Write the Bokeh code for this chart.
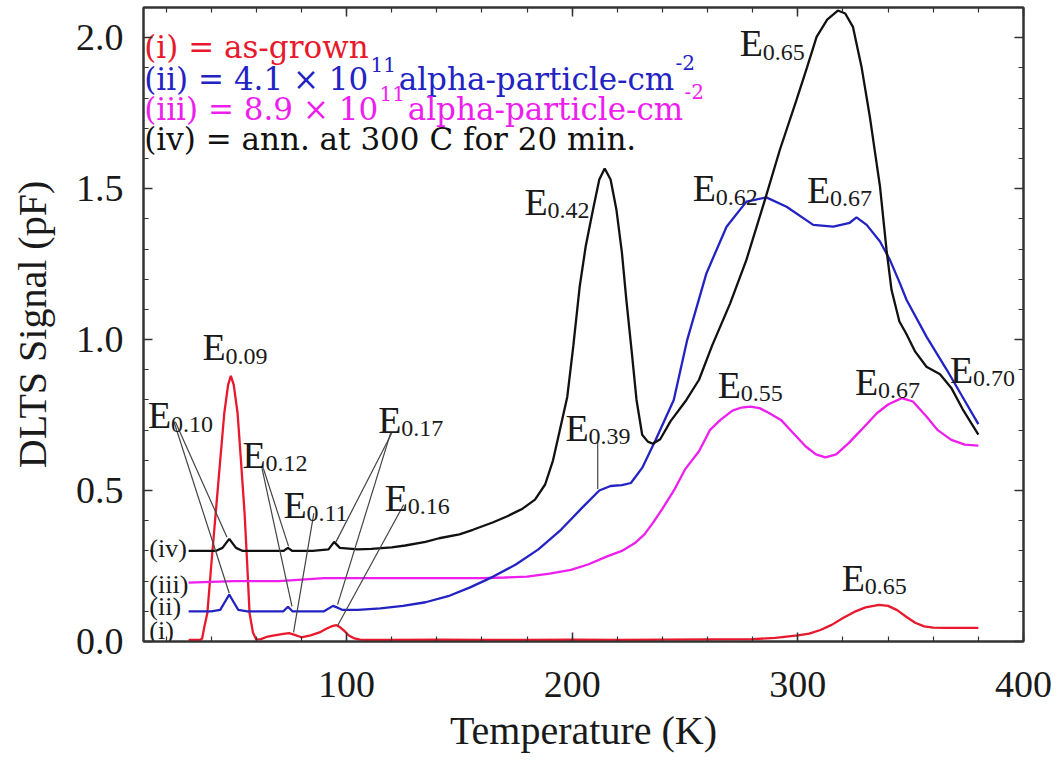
from bokeh.plotting import figure
from bokeh.models import Range1d, LinearAxis, SingleIntervalTicker, CustomJSTickFormatter, PrintfTickFormatter
from bokeh.core.properties import value
from bokeh.embed import file_html
from bokeh.resources import INLINE

FONT = "Liberation Serif"
LFONT = "DejaVu Serif"

# ---------------- data ----------------
temp_i = [30, 35, 36, 37, 38.3, 40, 42, 44, 45.8, 47.5, 48.7, 50, 51.7, 53, 54.8, 56, 57, 58.5, 60,
          62, 64.5, 68, 72, 74.5, 77, 80, 84, 88, 91, 94, 95.5, 97, 99, 101, 103.5, 106, 110,
          120, 140, 160, 180, 200, 220, 240, 260, 280, 290, 300, 305, 310, 315, 320, 325, 330,
          336, 340, 344, 348, 352, 356, 360, 365, 370, 375, 380]
sig_i = [0.005, 0.005, 0.01, 0.05, 0.094, 0.25, 0.425, 0.60, 0.756, 0.85, 0.88, 0.85, 0.756, 0.62,
         0.425, 0.25, 0.094, 0.03, 0.006,
         0.008, 0.015, 0.02, 0.025, 0.028, 0.022, 0.014, 0.02, 0.03, 0.042, 0.052, 0.054, 0.048,
         0.035, 0.02, 0.01, 0.006, 0.005,
         0.005, 0.006, 0.005, 0.005, 0.006, 0.005, 0.006, 0.007, 0.008, 0.012, 0.02, 0.026, 0.038,
         0.055, 0.078, 0.098, 0.113,
         0.121, 0.118, 0.104, 0.082, 0.062, 0.05, 0.046, 0.045, 0.045, 0.045, 0.045]

temp_ii = [30, 40, 44, 46, 48, 50, 52, 56, 65, 72, 74, 76, 80, 90, 94, 96, 98, 105, 115, 125, 135,
           145, 155, 165, 175, 185, 195, 204, 212, 217, 222, 226, 231, 237, 245, 251, 259.5, 268.4,
           277.2, 286, 295, 306.8, 315.7, 323, 326, 330.5, 336.4, 340.8, 345.2, 348.2, 357, 366,
           373, 380]
sig_ii = [0.10, 0.10, 0.105, 0.13, 0.155, 0.13, 0.105, 0.10, 0.10, 0.10, 0.115, 0.10, 0.10, 0.10,
          0.118, 0.112, 0.105, 0.105, 0.11, 0.118, 0.13, 0.15, 0.18, 0.215, 0.255, 0.305, 0.37,
          0.44, 0.50, 0.515, 0.518, 0.525, 0.575, 0.668, 0.80, 1.0, 1.22, 1.374, 1.457, 1.471,
          1.44, 1.38, 1.374, 1.387, 1.405, 1.38, 1.325, 1.264, 1.187, 1.131, 1.01, 0.90, 0.81,
          0.72]

temp_iii = [30, 50, 70, 80, 90, 100, 120, 140, 160, 170, 180, 190, 199.4, 207, 215.2, 222, 227.8,
            232, 235.7, 240, 245.2, 250, 256.2, 261, 265.7, 271, 275, 279, 283, 287, 292.5, 298,
            303.5, 308, 312.2, 317, 322.5, 328, 335, 340, 346, 351, 357, 362, 368, 374, 380]
sig_iii = [0.195, 0.20, 0.20, 0.205, 0.21, 0.21, 0.21, 0.21, 0.21, 0.212, 0.215, 0.225, 0.237,
           0.255, 0.281, 0.30, 0.326, 0.355, 0.392, 0.44, 0.502, 0.57, 0.63, 0.70, 0.734, 0.765,
           0.775, 0.778, 0.773, 0.758, 0.734, 0.69, 0.646, 0.62, 0.61, 0.62, 0.657, 0.70, 0.756,
           0.785, 0.806, 0.795, 0.745, 0.70, 0.668, 0.652, 0.649]

temp_iv = [30, 42, 45, 48, 51, 54, 65, 72, 74, 76, 85, 92, 94.5, 97, 105, 111, 120, 126, 135, 141,
           150, 156, 165, 171, 178, 183.5, 188, 191.5, 194.5, 197.8, 200.5, 203.3, 206, 209.2,
           212, 214.4, 217, 219.6, 222, 224, 226.5, 228.5, 231, 233.5, 235.7, 239, 243.6, 250.6,
           256.2, 262, 270, 277.2, 285.4, 292, 299.4, 304, 308.3, 313, 317.7, 321, 324.4, 328.2,
           331.9, 334, 336.4, 339.3, 341.5, 345, 348, 352, 357, 363, 368, 373, 380]
sig_iv = [0.30, 0.30, 0.31, 0.34, 0.31, 0.30, 0.30, 0.30, 0.31, 0.30, 0.30, 0.305, 0.33, 0.31,
          0.305, 0.307, 0.312, 0.318, 0.33, 0.342, 0.355, 0.37, 0.395, 0.414, 0.44, 0.47, 0.52,
          0.60, 0.70, 0.81, 0.98, 1.175, 1.31, 1.43, 1.53, 1.567, 1.53, 1.43, 1.29, 1.131, 0.95,
          0.80, 0.685, 0.662, 0.655, 0.67, 0.73, 0.80, 0.867, 0.98, 1.12, 1.264, 1.463, 1.628,
          1.794, 1.9, 2.003, 2.06, 2.09, 2.08, 2.036, 1.904, 1.738, 1.63, 1.507, 1.297, 1.165,
          1.06, 1.02, 0.96, 0.91, 0.885, 0.84, 0.77, 0.685]

# trap labels: subscript text, E left (K), E baseline (pF)
trap_sub = ["0.09", "0.10", "0.12", "0.11", "0.17", "0.16", "0.42", "0.39", "0.65", "0.62",
            "0.67", "0.55", "0.67", "0.70", "0.65"]
trap_x = [36.1, 12.0, 53.9, 72.0, 114.0, 116.9, 178.9, 197.0, 274.3, 253.4, 304.0, 264.5, 325.3,
          367.4, 319.4]
trap_y = [0.975, 0.75, 0.618, 0.453, 0.734, 0.476, 1.457, 0.708, 1.982, 1.502, 1.496, 0.85, 0.861,
          0.90, 0.211]

# pointer lines from labels to the small peaks
ptr_x0 = [24.1, 23.5, 63.1, 62.5, 85.5, 120.0, 119.5, 125.3, 211.3]
ptr_y0 = [0.728, 0.728, 0.574, 0.574, 0.425, 0.69, 0.69, 0.453, 0.662]
ptr_x1 = [47.0, 48.0, 74.3, 75.8, 76.5, 95.3, 96.0, 96.0, 211.3]
ptr_y1 = [0.345, 0.16, 0.315, 0.116, 0.03, 0.33, 0.122, 0.052, 0.505]

curve_tags = ["(iv)", "(iii)", "(ii)", "(i)"]
curve_tag_y = [0.309, 0.188, 0.116, 0.038]

RED, BLUE, MAG, BLK = "#e8192c", "#2323c4", "#ee1eee", "#111111"

# ---------------- figure ----------------
p = figure(frame_width=880, frame_height=634, x_range=Range1d(10, 400), y_range=Range1d(0, 2.1),
           output_backend="svg", toolbar_location=None,
           min_border_left=143, min_border_right=35, min_border_top=7, min_border_bottom=132,
           background_fill_color="white", border_fill_color="white")
p.xgrid.visible = False
p.ygrid.visible = False
p.outline_line_color = "#333333"
p.outline_line_width = 2

xt = SingleIntervalTicker(interval=100, num_minor_ticks=5)
yt = SingleIntervalTicker(interval=0.5, num_minor_ticks=5)
p.xaxis.ticker = xt
p.yaxis.ticker = yt
p.yaxis.formatter = PrintfTickFormatter(format="%.1f")
p.xaxis.axis_label = "Temperature (K)"
p.yaxis.axis_label = "DLTS Signal (pF)"


def style_axis(ax):
    ax.major_tick_in = 9
    ax.major_tick_out = 0
    ax.minor_tick_in = 5
    ax.minor_tick_out = 0
    ax.axis_line_width = 2
    ax.axis_line_color = "#333333"
    ax.major_tick_line_color = "#333333"
    ax.minor_tick_line_color = "#333333"
    ax.major_tick_line_width = 1.5
    ax.minor_tick_line_width = 1.2
    ax.major_label_text_font = FONT
    ax.major_label_text_font_size = "38px"
    ax.major_label_text_color = "#1a1a1a"
    ax.axis_label_text_font = FONT
    ax.axis_label_text_font_size = "40px"
    ax.axis_label_text_font_style = "normal"
    ax.axis_label_text_color = "#1a1a1a"


style_axis(p.xaxis[0])
style_axis(p.yaxis[0])
p.xaxis[0].major_label_standoff = 30
p.xaxis[0].axis_label_standoff = 8
p.yaxis[0].major_label_standoff = 20
p.yaxis[0].axis_label_standoff = 18

blank = CustomJSTickFormatter(code="return ''")
for loc, tk in (("above", xt), ("right", yt)):
    ax = LinearAxis(ticker=tk, formatter=blank)
    style_axis(ax)
    ax.major_label_standoff = 0
    ax.major_label_text_font_size = "1px"
    p.add_layout(ax, loc)

# curves
p.line(temp_i, sig_i, line_color=RED, line_width=2.3)
p.line(temp_iii, sig_iii, line_color=MAG, line_width=2.3)
p.line(temp_ii, sig_ii, line_color=BLUE, line_width=2.3)
p.line(temp_iv, sig_iv, line_color=BLK, line_width=2.3)

# pointer lines
p.segment(ptr_x0, ptr_y0, ptr_x1, ptr_y1, line_color="#444444", line_width=1.2)

# trap labels E_x.xx
p.text(x=trap_x, y=trap_y, text=["E"] * len(trap_x), text_font=value(FONT),
       text_font_size=value("38px"), text_baseline="alphabetic", text_align="left",
       text_color="#1a1a1a")
p.text(x=trap_x, y=trap_y, text=trap_sub, x_offset=23, y_offset=9, text_font=value(FONT),
       text_font_size=value("24px"), text_baseline="alphabetic", text_align="left",
       text_color="#1a1a1a")

# curve tags at left
p.text(x=[12.6] * 4, y=curve_tag_y, text=curve_tags, text_font=value(FONT),
       text_font_size=value("26px"), text_baseline="middle", text_align="left",
       text_color="#1a1a1a")

# legend block (as text)
LX = 10.3
leg_base = [1.969, 1.863, 1.764, 1.665]
MAIN = value("31px")
SUP = value("20px")


def leg(x, y, s, color, size=MAIN, dy=0):
    p.text(x=[x], y=[y], text=[s], y_offset=dy, text_font=value(LFONT), text_font_size=size,
           text_baseline="alphabetic", text_align="left", text_color=color)


leg(LX, leg_base[0], "(i) = as-grown", RED)
leg(LX, leg_base[1], "(ii) = 4.1 × 10", BLUE)
leg(110.6, leg_base[1], "11", BLUE, SUP, -15)
leg(123.1, leg_base[1], "alpha-particle-cm", BLUE)
leg(245.8, leg_base[1], "-2", BLUE, SUP, -17)
leg(LX, leg_base[2], "(iii) = 8.9 × 10", MAG)
leg(114.6, leg_base[2], "11", MAG, SUP, -15)
leg(127.1, leg_base[2], "alpha-particle-cm", MAG)
leg(249.8, leg_base[2], "-2", MAG, SUP, -17)
leg(LX, leg_base[3], "(iv) = ann. at 300 C for 20 min.", "#111111")

open("out.html", "w").write(file_html(p, INLINE))
